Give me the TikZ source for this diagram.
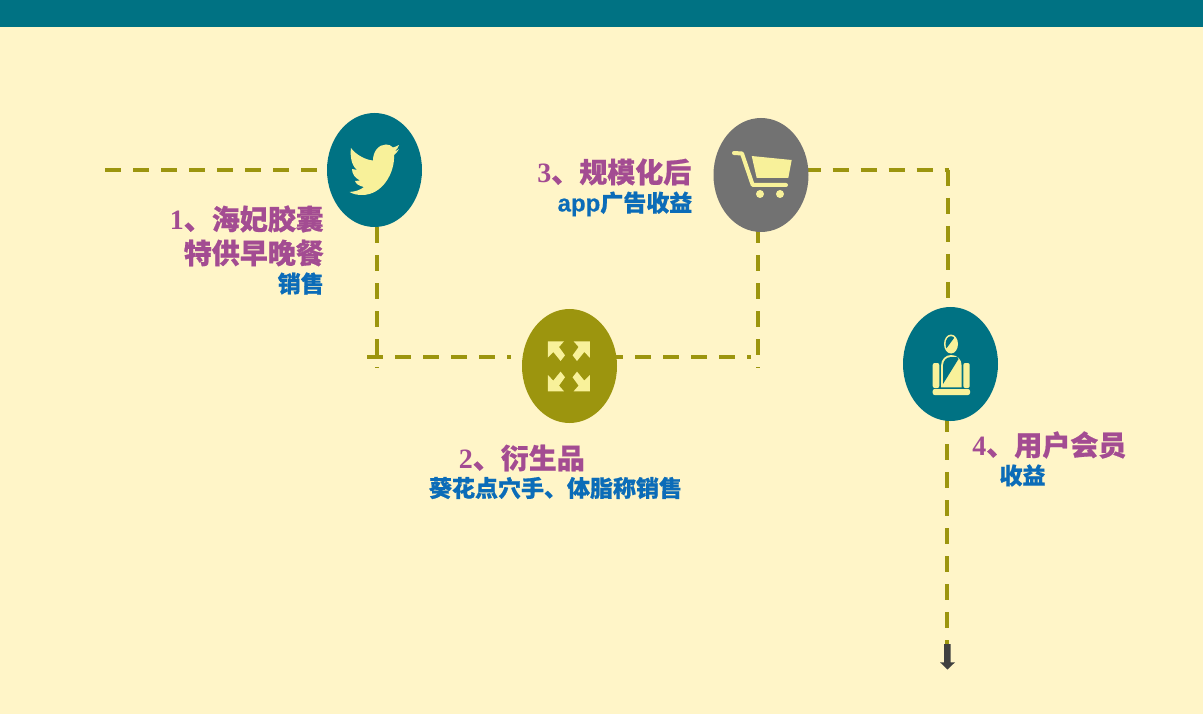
\documentclass[tikz,border=0pt]{standalone}
\usepackage{fontspec}
\setmainfont{Liberation Serif}
\newfontfamily\cjk[BoldFeatures={FakeBold=0.7}]{Noto Sans CJK SC}
\newfontfamily\lat[BoldFeatures={FakeBold=0.4}]{Liberation Sans}
\usetikzlibrary{shapes.geometric,backgrounds}
\definecolor{bg}{HTML}{FFF5C8}
\definecolor{teal}{HTML}{007283}
\definecolor{olive}{HTML}{9C950E}
\definecolor{grayc}{HTML}{727272}
\definecolor{icon}{HTML}{F8F19A}
\definecolor{purp}{HTML}{A34C92}
\definecolor{blu}{HTML}{0B6CB8}
\definecolor{arr}{HTML}{404040}
\tikzset{
 x=1pt,y=-1pt,
 circ/.style={ellipse,minimum width=95pt,minimum height=114pt,inner sep=0pt},
 link/.style={draw=olive,line width=4.2pt,dash pattern=on 16pt off 12pt},
 head/.style={font=\bfseries\fontsize{28}{32}\selectfont,text=purp,inner sep=0pt},
 sub/.style={font=\cjk\bfseries\fontsize{23}{27}\selectfont,text=blu,inner sep=0pt},
}
\newcommand{\hz}[1]{{\cjk\bfseries #1}}
\begin{document}
\begin{tikzpicture}
\useasboundingbox (0,0) rectangle (1203,714);

\node[circ,fill=teal] (n1) at (374.5,170) {};
\node[circ,fill=olive] (n2) at (569.5,366) {};
\node[circ,fill=grayc] (n3) at (761,175) {};
\node[circ,fill=teal] (n4) at (950.5,364) {};

\coordinate (s) at (105,170);
\coordinate (g1) at ([xshift=-9pt]n1.west);
\coordinate (jl) at (367,357);
\coordinate (g2) at ([xshift=-11pt]n2.west);
\coordinate (c2) at ([xshift=-10pt]n2.east);
\coordinate (jr) at (751,357);
\coordinate (b1) at (377,368);
\coordinate (b3) at (758,368);
\coordinate (c3) at ([xshift=-4pt]n3.east);
\coordinate (cor) at (949,170);
\coordinate (vt) at (948,170);
\coordinate (c4) at ([yshift=9pt,xshift=-2.5pt]n4.north);
\coordinate (e) at (947,644);

\begin{pgfonlayer}{background}
\fill[bg] (0,0) rectangle (1203,714);
\fill[teal] (0,0) rectangle (1203,27);
\draw[link] (s) -- (s -| g1);
\draw[link] ([xshift=2.5pt]n1.south) -- (b1);
\draw[link] (jl) -- (jl -| g2);
\draw[link] (jr -| c2) -- (jr);
\draw[link] ([xshift=-3pt,yshift=5pt]n3.south) -- (b3);
\draw[link] (c3 |- cor) -- (cor);
\draw[link] (vt) -- (c4);
\draw[link] ([xshift=-3.5pt,yshift=5pt]n4.south) -- (e);
\end{pgfonlayer}

% arrow
\fill[arr] (944,644) -- (950.7,644) -- (950.7,662.3) -- (955,662.3) -- (947.5,669.5) -- (940,662.3) -- (944,662.3) -- cycle;

% bird
\fill[icon] (349.5,192) .. controls (356,191.5) and (360,190) .. (364,187)
 .. controls (359,186) and (356,184) .. (355,181) .. controls (357,181) and (358,181) .. (360,180.5)
 .. controls (355,178) and (352,174) .. (352,169) .. controls (354,170) and (355,170) .. (357,170)
 .. controls (351,165) and (350,155) .. (351,148) .. controls (356,155) and (366,160) .. (373,160.5)
 .. controls (373,151) and (379,144.5) .. (386,144.5) .. controls (389,144.5) and (391,145.5) .. (393,147.5)
 .. controls (395,147) and (397,146) .. (399,145) .. controls (398,148) and (397,149.5) .. (395,151)
 .. controls (396,151) and (398,150) .. (399,149) .. controls (398,151) and (396,153.5) .. (394,155)
 .. controls (395,172) and (383,195) .. (362,195) .. controls (357,195) and (353,194) .. (349.5,192) -- cycle;

% cart
\fill[icon] (751.7,156) -- (791.7,160) -- (788.3,178) -- (756.7,178) -- cycle;
\draw[icon,line width=4pt,line cap=round,line join=round] (734,153) -- (742,153.5) -- (752.7,185) -- (786,185);
\fill[icon] (760,194) circle (4pt);
\fill[icon] (780,194) circle (4pt);

% arrows icon
\begin{scope}[shift={(568.8,366.3)}]
\foreach \sx/\sy in {1/1,-1/1,1/-1,-1/-1}{
 \begin{scope}[xscale=\sx,yscale=\sy]
 \fill[icon] (21,25) -- (4.8,25) -- (9.8,19.3) -- (3.8,11) -- (8.2,5.3) -- (15.5,14.3) -- (21,8.7) -- cycle;
 \end{scope}
}
\end{scope}

% seat person
\fill[icon] (951,344) ellipse (7 and 9.5);
\begin{scope}
\clip (951,344) ellipse (5.4 and 7.8);
\fill[teal] (943,334) -- (957,334) -- (943,353) -- cycle;
\end{scope}
\fill[icon] (941,387.3) -- (941,366) .. controls (941,359) and (946,355) .. (951,355) .. controls (957,355) and (961.7,359) .. (961.7,366) -- (961.7,387.3) -- cycle;
\fill[teal] (943,384) -- (943,366) .. controls (943,361) and (946,357) .. (951,357) -- (957,357) .. controls (957.5,357) and (958,358) .. (958.5,359) -- cycle;
\fill[icon,rounded corners=2pt] (932.7,363) rectangle (939.3,388);
\fill[icon,rounded corners=2pt] (963.3,363) rectangle (969.7,388);
\fill[icon,rounded corners=2pt] (932.7,389) rectangle (970,395);

% labels
\node[head,anchor=east] (t1a) at (324,219) {1\hz{、海妃胶囊}};
\node[head,anchor=east] (t1b) at (324,253) {\hz{特供早晚餐}};
\node[sub,anchor=east] (t1c) at (324,283.5) {销售};
\node[head,anchor=east] (t2a) at (585,458) {2\hz{、衍生品}};
\node[sub,anchor=center] (t2b) at (555.5,488) {葵花点穴手、体脂称销售};
\node[head,anchor=east] (t3a) at (691.5,172) {3\hz{、规模化后}};
\node[sub,anchor=east] (t3b) at (692.5,204) {{\lat\bfseries\fontsize{24}{27}\selectfont app}广告收益};
\node[head,anchor=east] (t4a) at (1126.5,445) {4\hz{、用户会员}};
\node[sub,anchor=center] (t4b) at (1022.5,475.5) {收益};
\end{tikzpicture}
\end{document}
